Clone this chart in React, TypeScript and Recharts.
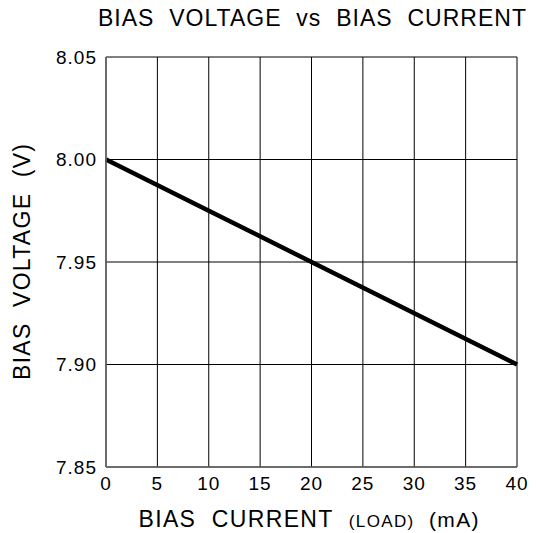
import React from 'react';
import { LineChart, Line, XAxis, YAxis, CartesianGrid, Label } from 'recharts';

const currentMa = [0, 10, 20, 30, 40];
const voltageV = [8.0, 7.975, 7.95, 7.925, 7.9];
const xTicks = [0, 5, 10, 15, 20, 25, 30, 35, 40];
const yTicks = [7.85, 7.9, 7.95, 8.0, 8.05];

const data = currentMa.map((c, i) => ({ current: c, voltage: voltageV[i] }));

const FONT = '"Liberation Sans", Arial, sans-serif';

const XTitle = (props: any) => {
  const { viewBox } = props;
  const cx = viewBox.x + viewBox.width / 2;
  return (
    <text
      x={cx - 3}
      y={527}
      textAnchor="middle"
      fontFamily={FONT}
      fill="#000"
      textLength={340}
      lengthAdjust="spacing"
      style={{ whiteSpace: 'pre' }}
    >
      <tspan fontSize={23}>BIAS  CURRENT  </tspan>
      <tspan fontSize={17}>(LOAD)</tspan>
      <tspan fontSize={21}>  (mA)</tspan>
    </text>
  );
};

const YTitle = (props: any) => {
  const { viewBox } = props;
  const cy = viewBox.y + viewBox.height / 2;
  return (
    <text
      x={22}
      y={cy}
      transform={`rotate(-90, 22, ${cy})`}
      textAnchor="middle"
      dominantBaseline="central"
      fontFamily={FONT}
      fontSize={23}
      fill="#000"
      textLength={236}
      lengthAdjust="spacing"
      style={{ whiteSpace: 'pre' }}
    >
      BIAS  VOLTAGE  (V)
    </text>
  );
};

const App: React.FC = () => {
  return (
    <div style={{ position: 'absolute', left: 0, top: 0, background: '#fff' }}>
      <LineChart
        width={536}
        height={533}
        data={data}
        margin={{ top: 57, right: 19, bottom: 0, left: 0 }}
      >
        <text
          x={312}
          y={26}
          textAnchor="middle"
          fontFamily={FONT}
          fontSize={23}
          fill="#000"
          textLength={428}
          lengthAdjust="spacing"
          style={{ whiteSpace: 'pre' }}
        >
          BIAS  VOLTAGE  vs  BIAS  CURRENT
        </text>
        <CartesianGrid stroke="#000" strokeWidth={1} horizontalValues={yTicks} verticalValues={xTicks} />
        <XAxis
          dataKey="current"
          type="number"
          domain={[0, 40]}
          ticks={xTicks}
          height={66}
          axisLine={{ stroke: '#666', strokeWidth: 1.5 }}
          tickLine={false}
          tickMargin={4}
          tick={{ fill: '#000', fontSize: 19, fontFamily: FONT, letterSpacing: 1 }}
          interval={0}
        >
          <Label content={<XTitle />} />
        </XAxis>
        <YAxis
          type="number"
          domain={[7.85, 8.05]}
          ticks={yTicks}
          width={106}
          axisLine={{ stroke: '#666', strokeWidth: 1.5 }}
          tickLine={false}
          tickMargin={3}
          tickFormatter={(v: number) => v.toFixed(2)}
          tick={{ fill: '#000', fontSize: 19, fontFamily: FONT, letterSpacing: 1 }}
          interval={0}
        >
          <Label content={<YTitle />} />
        </YAxis>
        <Line
          type="linear"
          dataKey="voltage"
          stroke="#000"
          strokeWidth={4.5}
          dot={false}
          isAnimationActive={false}
        />
      </LineChart>
    </div>
  );
};

export default App;
